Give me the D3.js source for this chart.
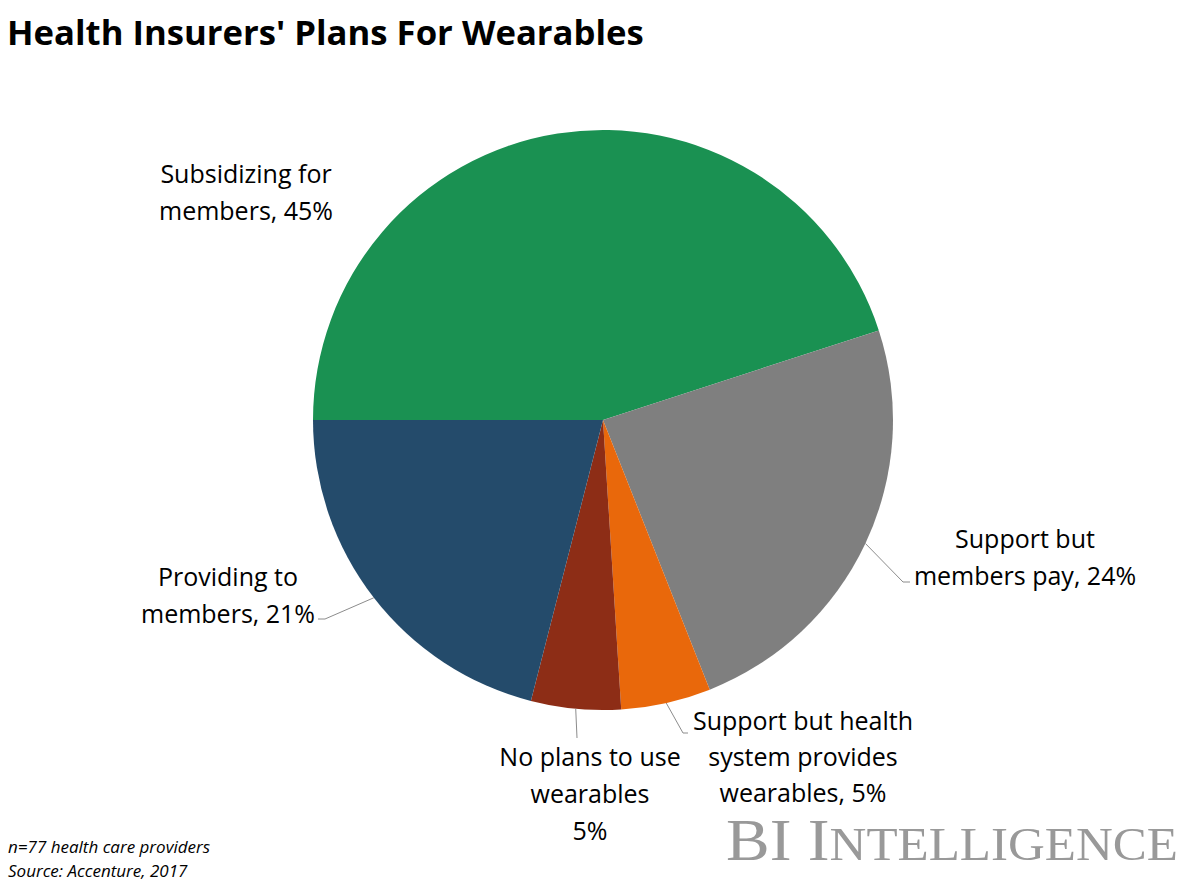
<!DOCTYPE html>
<html>
<head>
<meta charset="utf-8">
<script src="https://cdn.jsdelivr.net/npm/d3@7"></script>
<style>
  html, body { margin: 0; padding: 0; background: #fff; }
  svg { display: block; }
</style>
</head>
<body>
<svg id="chart" width="1200" height="887"></svg>
<script>
// ---- data ----
const categories = [
  "Subsidizing for members",
  "Support but members pay",
  "Support but health system provides wearables",
  "No plans to use wearables",
  "Providing to members"
];
const values = [45, 24, 5, 5, 21];
const labelLines = [
  ["Subsidizing for", "members, 45%"],
  ["Support but", "members pay, 24%"],
  ["Support but health", "system provides", "wearables, 5%"],
  ["No plans to use", "wearables", "5%"],
  ["Providing to", "members, 21%"]
];
const colors = ["#1a9152", "#7f7f7f", "#e9680b", "#8d2d16", "#244b6b"];

// ---- layout (positions relative to pie centre) ----
const cx = 603, cy = 420, R = 290;
const labelLayout = [
  { x: -357, y: -237, lh: 37, leader: null },
  { x: 422, y: 128, lh: 37, leader: [[300, 162], [307, 162]] },
  { x: 200, y: 310, lh: 36, leader: [[80, 313], [85, 313]] },
  { x: -13, y: 346, lh: 37, leader: [[-26, 318]] },
  { x: -375, y: 166, lh: 37, leader: [[-278, 199], [-285, 199]] }
];

const svg = d3.select("#chart");
const font = "'Open Sans', 'DejaVu Sans', sans-serif";

// title
svg.append("text")
  .attr("x", 7).attr("y", 45)
  .attr("font-family", font)
  .attr("font-weight", 700)
  .attr("font-size", 34.7)
  .attr("fill", "#000")
  .text("Health Insurers' Plans For Wearables");

const g = svg.append("g").attr("transform", `translate(${cx},${cy})`);

const pie = d3.pie().sort(null).value(d => d)
  .startAngle(-Math.PI / 2).endAngle(3 * Math.PI / 2);
const arcs = pie(values);
const arc = d3.arc().innerRadius(0).outerRadius(R);

g.selectAll("path.slice").data(arcs).join("path")
  .attr("class", "slice")
  .attr("d", arc)
  .attr("fill", (d, i) => colors[i]);

// leader lines
arcs.forEach((d, i) => {
  const L = labelLayout[i];
  if (!L.leader) return;
  const a = (d.startAngle + d.endAngle) / 2;
  const start = [R * Math.sin(a), -R * Math.cos(a)];
  const pts = [start, ...L.leader];
  g.append("path")
    .attr("d", d3.line()(pts))
    .attr("fill", "none")
    .attr("stroke", "#8c8c8c")
    .attr("stroke-width", 1);
});

// labels
arcs.forEach((d, i) => {
  const L = labelLayout[i];
  const t = g.append("text")
    .attr("font-family", font)
    .attr("font-size", 25)
    .attr("fill", "#000")
    .attr("text-anchor", "middle");
  labelLines[i].forEach((line, j) => {
    t.append("tspan")
      .attr("x", L.x)
      .attr("y", L.y + j * L.lh)
      .text(line);
  });
});

// footnote
const foot = svg.append("text")
  .attr("font-family", font)
  .attr("font-style", "italic")
  .attr("font-size", 17)
  .attr("fill", "#000");
foot.append("tspan").attr("x", 8).attr("y", 853).text("n=77 health care providers");
foot.append("tspan").attr("x", 8).attr("y", 877).text("Source: Accenture, 2017");

// logo
const logo = svg.append("text")
  .attr("x", 726).attr("y", 860)
  .attr("font-family", "'Liberation Serif', 'DejaVu Serif', serif")
  .attr("fill", "#999999")
  .attr("textLength", 452)
  .attr("lengthAdjust", "spacingAndGlyphs");
logo.append("tspan").attr("font-size", 59).text("BI I");
logo.append("tspan").attr("font-size", 46).text("NTELLIGENCE");
</script>
</body>
</html>
